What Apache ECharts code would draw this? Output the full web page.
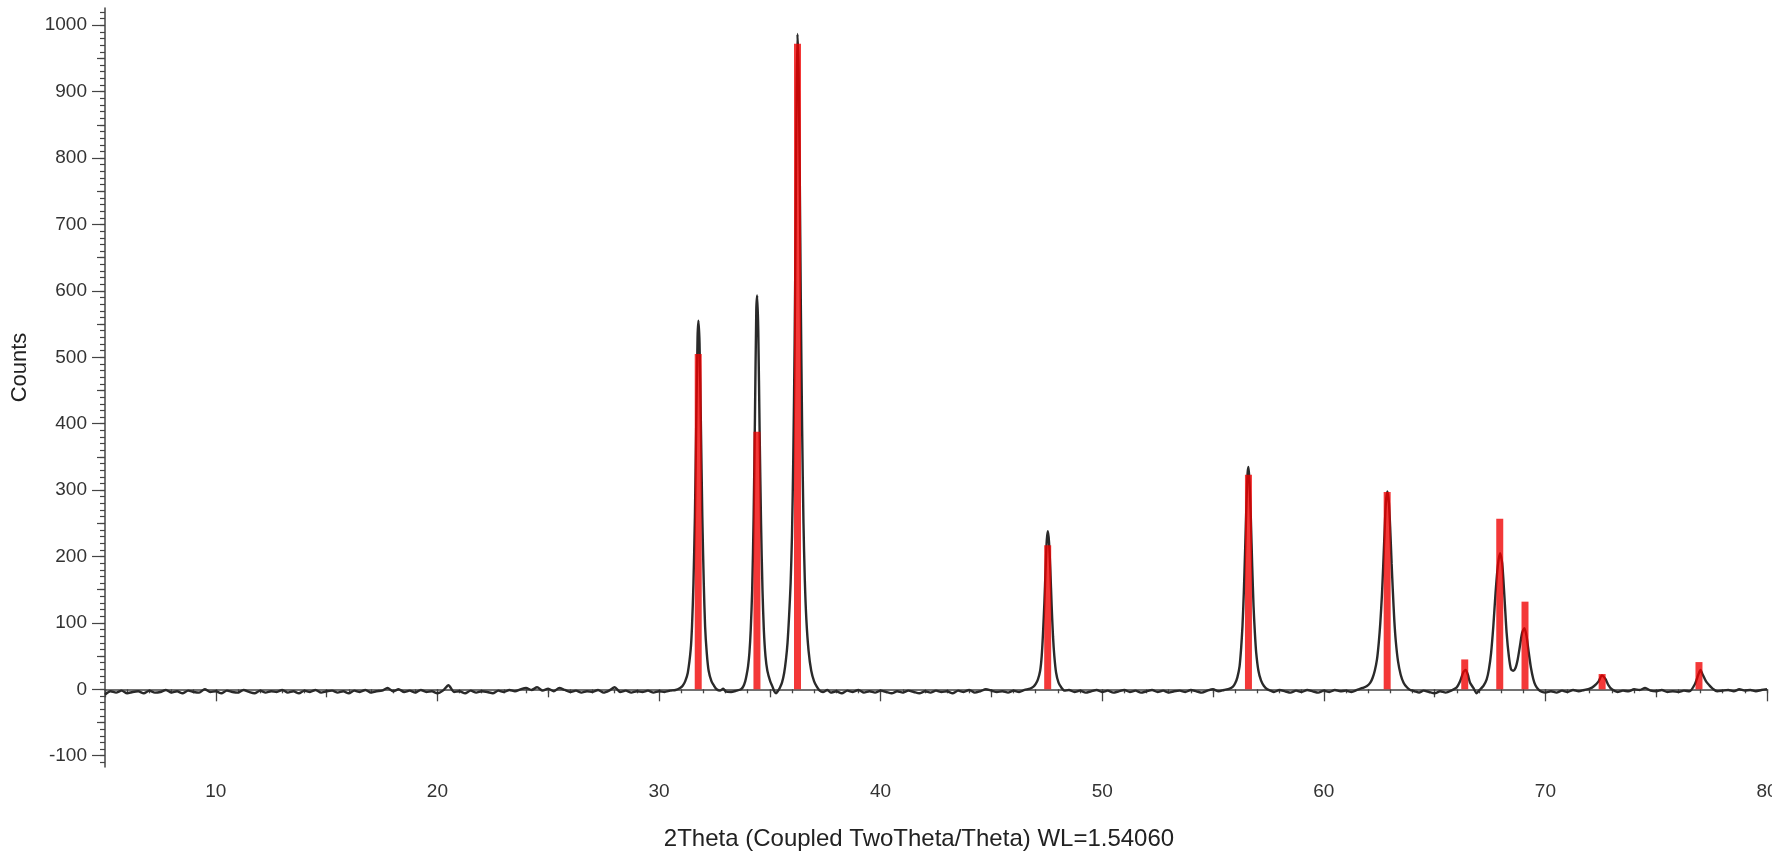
<!DOCTYPE html>
<html>
<head>
<meta charset="utf-8">
<script src="https://cdn.jsdelivr.net/npm/echarts@6/dist/echarts.min.js"></script>
<style>
html,body{margin:0;padding:0;background:#fff;}
#chart{width:1772px;height:864px;}
</style>
</head>
<body>
<div id="chart"></div>
<script>
// Measured XRD pattern: [2theta, counts]
const pattern = [
[5.0,-8],[5.25,-3],[5.5,-5],[5.75,-2],[6.0,-6],[6.25,-4],[6.5,-3],[6.75,-6],[7.0,-2],[7.25,-5],[7.5,-4],[7.75,-1],
[8.0,-5],[8.25,-3],[8.5,-6],[8.75,-2],[9.0,-4],[9.25,-5],[9.5,0],[9.75,-4],[10.0,-3],[10.25,-6],[10.5,-2],[10.75,-4],
[11.0,-5],[11.25,-1],[11.5,-4],[11.75,-6],[12.0,-2],[12.25,-5],[12.5,-3],[12.75,-4],[13.0,-1],[13.25,-5],[13.5,-3],[13.75,-6],
[14.0,-2],[14.25,-4],[14.5,-1],[14.75,-5],[15.0,-3],[15.25,-2],[15.5,-5],[15.75,-3],[16.0,-6],[16.25,-2],[16.5,-4],[16.75,-1],
[17.0,-5],[17.25,-3],[17.5,-2],[17.75,2],[18.0,-3],[18.25,0],[18.5,-4],[18.75,-2],[19.0,-5],[19.25,-1],[19.5,-4],[19.75,-3],
[20.0,-6],[20.25,-2],[20.5,6],[20.75,-4],[21.0,-3],[21.25,-6],[21.5,-2],[21.75,-5],[22.0,-3],[22.25,-4],[22.5,-6],[22.75,-2],
[23.0,-4],[23.25,-1],[23.5,-3],[23.75,0],[24.0,2],[24.25,-1],[24.5,3],[24.75,-2],[25.0,1],[25.25,-3],[25.5,2],[25.75,-1],
[26.0,-4],[26.25,-2],[26.5,-5],[26.75,-3],[27.0,-4],[27.25,-1],[27.5,-5],[27.75,-2],[28.0,3],[28.25,-4],[28.5,-2],[28.75,-5],
[29.0,-3],[29.25,-4],[29.5,-2],[29.75,-5],[30.0,-3],[30.25,-4],[30.5,-2],[30.75,-1],[30.95,2],
[31.06,5],[31.18,12],[31.3,25],[31.43,60],[31.49,95],[31.555,160],[31.62,260],[31.68,400],[31.74,530],[31.78,555],[31.83,520],
[31.89,400],[31.955,260],[32.02,160],[32.08,95],[32.155,55],[32.24,28],[32.37,12],[32.49,5],[32.6,0],[32.75,-2],[32.9,1],
[33.0,-3],[33.25,-4],[33.5,-2],[33.7,0],[33.8,4],
[33.89,12],[33.955,22],[34.02,35],[34.08,55],[34.14,90],[34.205,150],[34.27,260],[34.33,410],[34.39,570],[34.43,593],[34.48,540],
[34.54,390],[34.605,250],[34.67,150],[34.73,90],[34.805,50],[34.89,28],[35.02,12],[35.12,4],[35.2,-3],[35.28,-6],[35.36,-3],
[35.45,2],[35.55,10],[35.65,25],[35.73,45],[35.8,70],[35.87,110],[35.94,160],[36.0,230],[36.06,350],[36.12,520],[36.17,720],
[36.21,900],[36.25,987],[36.3,930],[36.35,780],[36.4,580],[36.46,390],[36.52,250],[36.58,165],[36.65,105],[36.75,58],[36.87,28],
[37.0,12],[37.12,4],[37.25,-2],[37.4,-4],[37.6,-1],[37.75,-5],[38.0,-3],[38.25,-6],[38.5,-2],[38.75,-4],[39.0,-1],[39.25,-5],
[39.5,-3],[39.75,-5],[40.0,-2],[40.25,-4],[40.5,-6],[40.75,-3],[41.0,-5],[41.25,-2],[41.5,-4],[41.75,-6],[42.0,-3],[42.25,-5],
[42.5,-2],[42.75,-4],[43.0,-3],[43.25,-6],[43.5,-2],[43.75,-4],[44.0,-1],[44.25,-5],[44.5,-3],[44.75,0],[45.0,-2],[45.25,-4],
[45.5,-3],[45.75,-5],[46.0,-2],[46.25,-4],[46.5,-1],[46.75,1],[46.9,4],
[47.0,8],[47.1,15],[47.2,28],[47.27,50],[47.33,85],[47.39,130],[47.45,185],[47.5,225],[47.55,238],[47.6,222],[47.66,180],
[47.72,125],[47.78,80],[47.84,50],[47.92,25],[48.03,10],[48.15,3],[48.3,-2],[48.5,-1],[48.75,-4],[49.0,-2],[49.25,-5],[49.5,-3],
[49.75,-1],[50.0,-4],[50.25,-2],[50.5,-5],[50.75,-3],[51.0,-1],[51.25,-4],[51.5,-2],[51.75,-5],[52.0,-3],[52.25,-1],[52.5,-4],
[52.75,-2],[53.0,-5],[53.25,-3],[53.5,-2],[53.75,-4],[54.0,-1],[54.25,-3],[54.5,-5],[54.75,-2],[55.0,0],[55.25,-3],[55.5,-1],
[55.75,1],[55.9,4],[56.0,9],[56.1,18],[56.2,35],[56.27,62],[56.33,95],[56.39,145],[56.45,210],[56.51,280],[56.56,325],[56.6,335],
[56.65,312],[56.71,255],[56.77,185],[56.83,125],[56.89,85],[56.95,55],[57.05,28],[57.17,13],[57.3,5],[57.45,0],[57.6,-2],
[57.75,-4],[58.0,-1],[58.25,-3],[58.5,-5],[58.75,-2],[59.0,-4],[59.25,-1],[59.5,-3],[59.75,-5],[60.0,-2],[60.25,-4],[60.5,-1],
[60.75,-3],[61.0,-2],[61.25,-4],[61.5,-1],[61.75,2],[61.95,5],[62.1,10],[62.2,17],[62.3,28],[62.4,45],[62.48,70],[62.55,100],
[62.62,140],[62.68,185],[62.74,235],[62.8,280],[62.87,298],[62.94,280],[63.0,240],[63.06,190],[63.12,145],[63.18,105],
[63.25,72],[63.35,42],[63.47,22],[63.6,10],[63.75,3],[63.9,-1],[64.1,-3],[64.3,-5],[64.5,-2],[64.75,-4],[65.0,-6],[65.25,-3],
[65.5,-5],[65.75,-2],[66.0,3],[66.15,12],[66.3,26],[66.4,29],[66.5,22],[66.6,10],[66.75,2],[66.9,-6],[67.0,-2],[67.2,5],
[67.35,15],[67.45,30],[67.55,55],[67.65,95],[67.75,145],[67.85,185],[67.95,205],[68.05,190],[68.15,140],[68.25,85],[68.35,50],
[68.45,30],[68.55,28],[68.65,32],[68.75,45],[68.85,65],[68.95,85],[69.05,92],[69.15,80],[69.25,55],[69.35,32],[69.45,16],
[69.55,6],[69.7,-1],[69.85,-4],[70.0,-5],[70.25,-3],[70.5,-5],[70.75,-2],[71.0,-4],[71.25,-1],[71.5,-3],[71.75,-1],[72.0,1],
[72.2,5],[72.4,12],[72.55,21],[72.7,16],[72.85,6],[73.0,0],[73.25,-4],[73.5,-2],[73.75,-3],[74.0,0],[74.25,-1],[74.5,2],
[74.75,-2],[75.0,-3],[75.25,-1],[75.5,-4],[75.75,-3],[76.0,-4],[76.25,-2],[76.5,-3],[76.75,8],[76.9,22],[77.0,29],[77.1,22],
[77.25,12],[77.4,6],[77.55,1],[77.75,-3],[78.0,-2],[78.25,-1],[78.5,-3],[78.75,0],[79.0,-2],[79.25,-1],[79.5,-3],[79.75,-1],[80.0,0]
];

// Reference (stick) pattern
const refPositions = [31.77, 34.42, 36.25, 47.54, 56.60, 62.86, 66.36, 67.94, 69.08, 72.56, 76.93];
const refCounts    = [505, 388, 972, 217, 323, 297, 45, 257, 132, 23, 41];

// Axis tick labels
const xLabels = [10, 20, 30, 40, 50, 60, 70, 80];
const yLabels = [-100, 0, 100, 200, 300, 400, 500, 600, 700, 800, 900, 1000];
const xMid = [5, 15, 25, 35, 45, 55, 65, 75];
const yMid = [-50, 50, 150, 250, 350, 450, 550, 650, 750, 850, 950];

const xMinor = [];
for (let v = 5; v <= 80; v += 1) xMinor.push(v);
const yMinor = [];
for (let v = -110; v <= 1020; v += 10) yMinor.push(v);

const X_MIN = 5, X_MAX = 80, Y_MIN = -117, Y_MAX = 1026;
const FONT = 'Liberation Sans, Arial, sans-serif';
const AX = '#444';

function xAxisDef(vals, len, withLabels, showLine) {
  return {
    type: 'value', min: X_MIN, max: X_MAX, position: 'bottom',
    axisLine: { show: showLine, lineStyle: { color: AX, width: 1.5 } },
    splitLine: { show: false },
    axisTick: { show: true, length: len, customValues: vals, lineStyle: { color: AX, width: 1.3 } },
    axisLabel: withLabels ? { show: true, customValues: vals, margin: 15, color: '#333', fontSize: 19, fontFamily: FONT,
      formatter: v => String(v) } : { show: false }
  };
}
function yAxisDef(vals, len, withLabels, showLine) {
  return {
    type: 'value', min: Y_MIN, max: Y_MAX, position: 'left',
    axisLine: { show: showLine, lineStyle: { color: AX, width: 1.5 } },
    splitLine: { show: false },
    axisTick: { show: true, length: len, customValues: vals, lineStyle: { color: AX, width: 1.2 } },
    axisLabel: withLabels ? { show: true, customValues: vals, margin: 18, color: '#333', fontSize: 19, fontFamily: FONT,
      formatter: v => String(v) } : { show: false }
  };
}

const xa0 = xAxisDef(xLabels, 12, true, true);
xa0.name = '2Theta (Coupled TwoTheta/Theta) WL=1.54060';
xa0.nameLocation = 'middle';
xa0.nameGap = 60;
xa0.nameTextStyle = { fontSize: 24, color: '#222', fontFamily: FONT, padding: [0, 34, 0, 0] };

const ya0 = yAxisDef(yLabels, 13, true, true);
ya0.name = 'Counts';
ya0.nameLocation = 'middle';
ya0.nameRotate = 90;
ya0.nameGap = 74;
ya0.nameTextStyle = { fontSize: 22, color: '#222', fontFamily: FONT, padding: [0, 0, 0, 40] };

const chart = echarts.init(document.getElementById('chart'), null, { renderer: 'canvas' });
chart.setOption({
  animation: false,
  backgroundColor: '#fff',
  grid: { left: 105, right: 5, top: 8, bottom: 97, containLabel: false, outerBoundsMode: 'none' },
  xAxis: [ xa0, xAxisDef(xMid, 8, false, false), xAxisDef(xMinor, 4, false, false) ],
  yAxis: [ ya0, yAxisDef(yMid, 8, false, false), yAxisDef(yMinor, 5, false, false) ],
  series: [
    {
      type: 'line', xAxisIndex: 0, yAxisIndex: 0,
      data: pattern, showSymbol: false, symbol: 'none',
      smooth: 0.25,
      lineStyle: { color: '#2a2a2a', width: 2.4 },
      z: 2
    },
    {
      type: 'bar', xAxisIndex: 0, yAxisIndex: 0,
      data: refPositions.map((p, i) => [p, refCounts[i]]),
      barWidth: 7,
      itemStyle: { color: 'rgba(240,0,0,0.78)' },
      z: 3
    }
  ]
});
</script>
</body>
</html>
